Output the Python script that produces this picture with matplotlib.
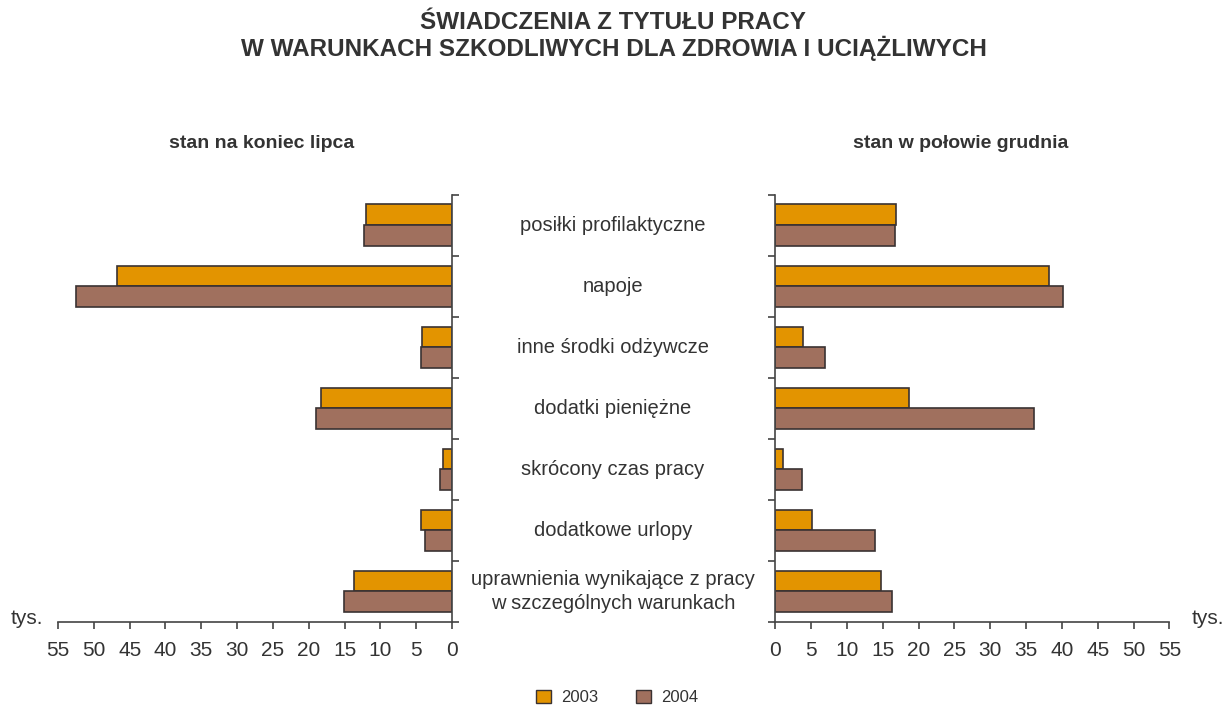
import numpy as np
import matplotlib
matplotlib.use("Agg")
import matplotlib.pyplot as plt
from matplotlib.patches import Patch

plt.rcParams['font.family'] = ['Liberation Sans', 'DejaVu Sans']

# dane (tys.)
kategorie = ["posiłki profilaktyczne", "napoje", "inne środki odżywcze",
             "dodatki pieniężne", "skrócony czas pracy", "dodatkowe urlopy",
             "uprawnienia wynikające z pracy\nw szczególnych warunkach"]
lipiec_2003 = [12.0, 46.8, 4.2, 18.3, 1.2, 4.4, 13.7]
lipiec_2004 = [12.3, 52.5, 4.3, 19.0, 1.7, 3.8, 15.1]
grudzien_2003 = [16.9, 38.2, 3.9, 18.7, 1.1, 5.1, 14.8]
grudzien_2004 = [16.7, 40.2, 6.9, 36.1, 3.7, 13.9, 16.3]
ticks_x = [0, 5, 10, 15, 20, 25, 30, 35, 40, 45, 50, 55]

c2003 = "#E39400"
c2004 = "#A0705E"
edge = "#3a3232"
axcol = "#444444"
txtcol = "#333333"

fig = plt.figure(figsize=(12.27, 7.08), dpi=100)
axL = fig.add_axes([0.0473, 0.1215, 0.3211, 0.6035])
axR = fig.add_axes([0.6319, 0.1215, 0.3211, 0.6035])

y = np.arange(len(kategorie)) + 0.5
h = 0.34

for ax, a, b in [(axL, lipiec_2003, lipiec_2004), (axR, grudzien_2003, grudzien_2004)]:
    ax.barh(y - h / 2, a, height=h, color=c2003, edgecolor=edge, linewidth=1.2)
    ax.barh(y + h / 2, b, height=h, color=c2004, edgecolor=edge, linewidth=1.2)
    ax.set_ylim(7, 0)
    ax.set_xlim(0, 55)
    ax.set_yticks(range(8))
    ax.set_yticklabels([])
    ax.set_xticks(ticks_x)
    ax.set_xticklabels([str(t) for t in ticks_x], fontsize=15, color=txtcol)
    ax.spines['top'].set_visible(False)
    ax.tick_params(axis='both', color=axcol, length=5, width=1.2)
    ax.tick_params(axis='x', pad=9)
    for s in ax.spines.values():
        s.set_color(axcol)
        s.set_linewidth(1.2)

axL.invert_xaxis()
axL.spines['left'].set_visible(False)
axL.yaxis.tick_right()
axR.spines['right'].set_visible(False)

for yi, k in zip(y, kategorie):
    fig.text(0.4995, 0.725 - yi / 7 * 0.6035, k, ha='center', va='center',
             fontsize=14.5, color=txtcol, linespacing=1.3)

fig.text(0.5, 0.968, "ŚWIADCZENIA Z TYTUŁU PRACY", ha='center', va='center',
         fontsize=17.5, fontweight='bold', color=txtcol)
fig.text(0.5, 0.931, "W WARUNKACH SZKODLIWYCH DLA ZDROWIA I UCIĄŻLIWYCH", ha='center', va='center',
         fontsize=17.5, fontweight='bold', color=txtcol)
fig.text(0.213, 0.798, "stan na koniec lipca", ha='center', va='center',
         fontsize=14, fontweight='bold', color=txtcol)
fig.text(0.783, 0.798, "stan w połowie grudnia", ha='center', va='center',
         fontsize=14, fontweight='bold', color=txtcol)
fig.text(0.009, 0.126, "tys.", ha='left', va='center', fontsize=15, color=txtcol)
fig.text(0.998, 0.126, "tys.", ha='right', va='center', fontsize=15, color=txtcol)

handles = [Patch(facecolor=c2003, edgecolor=edge, label="2003"),
           Patch(facecolor=c2004, edgecolor=edge, label="2004")]
fig.legend(handles=handles, loc='center', bbox_to_anchor=(0.503, 0.015), ncol=2,
           frameon=False, fontsize=12, handlelength=0.9, handleheight=0.9,
           columnspacing=2.3, handletextpad=0.6, labelcolor=txtcol)

fig.savefig("out.png", dpi=100)
